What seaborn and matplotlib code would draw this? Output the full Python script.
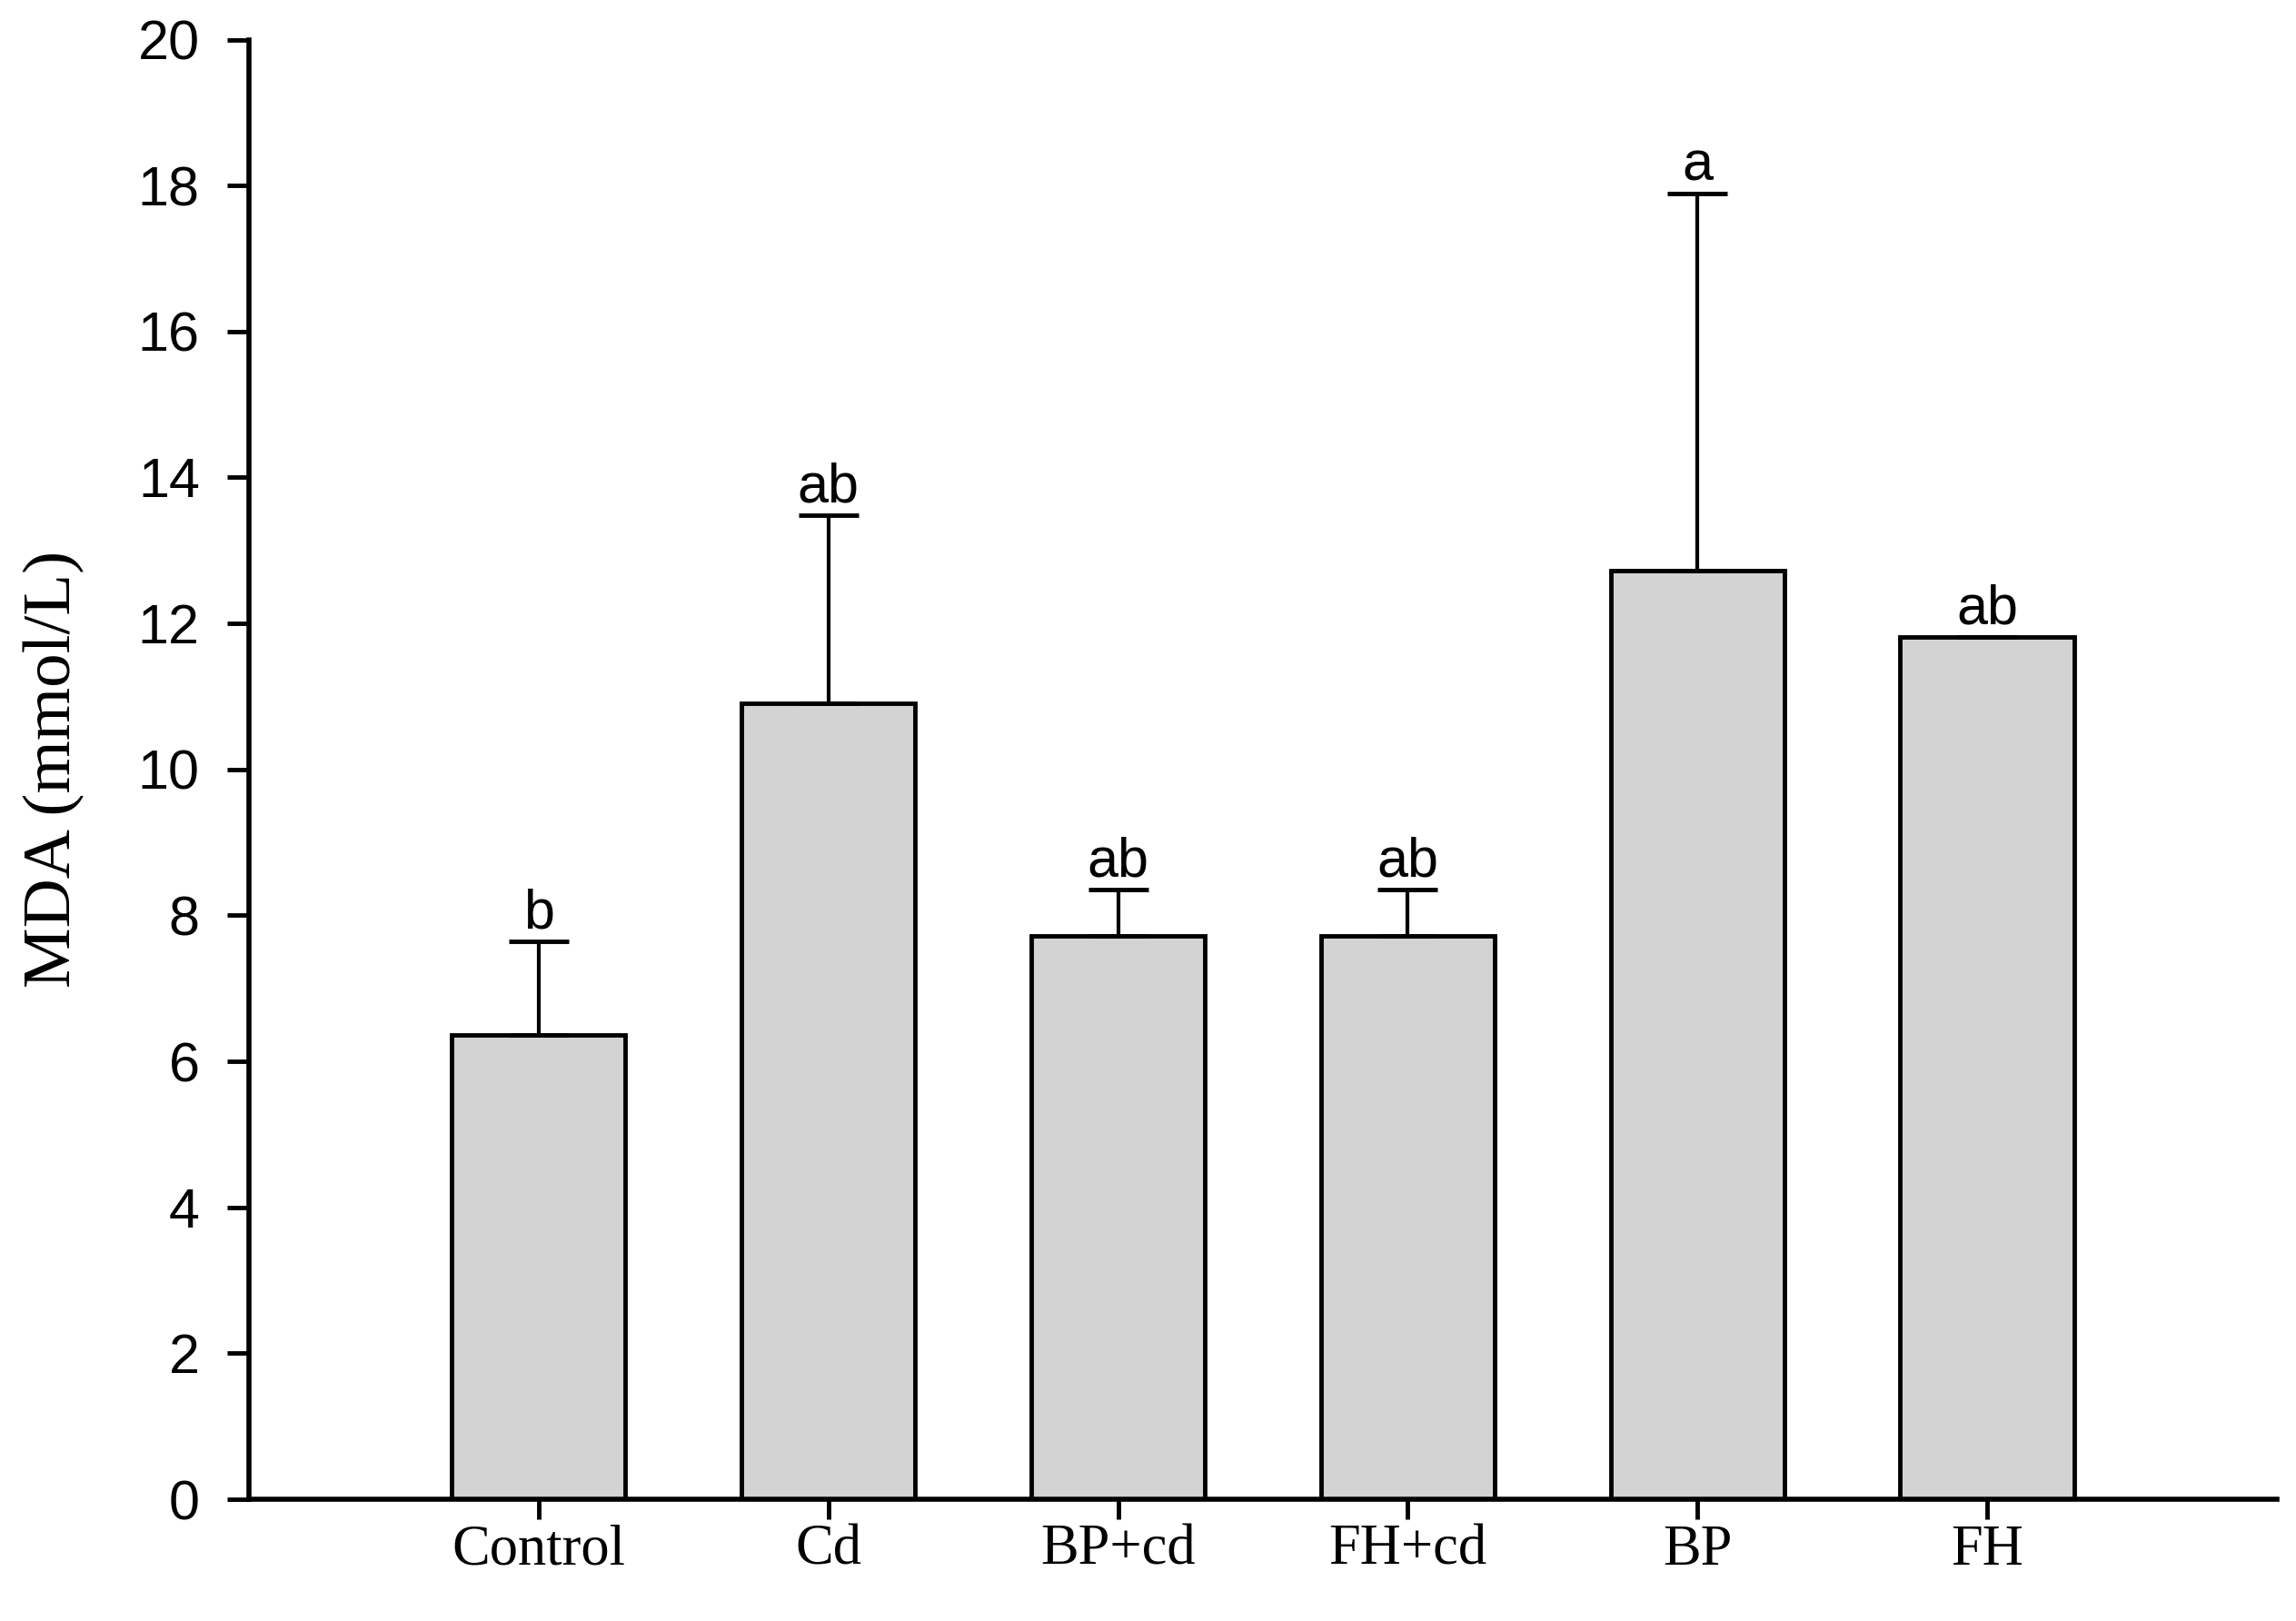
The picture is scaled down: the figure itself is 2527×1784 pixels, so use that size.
import pandas as pd
import seaborn as sns
import matplotlib.pyplot as plt

groups = ["Control", "Cd", "BP+cd", "FH+cd", "BP", "FH"]
mda_mean = [6.36, 10.91, 7.72, 7.72, 12.72, 11.82]
mda_sd = [1.28, 2.57, 0.64, 0.64, 5.17, 0.0]
letters = ["b", "ab", "ab", "ab", "a", "ab"]

df = pd.DataFrame({"group": groups, "mda": mda_mean, "sd": mda_sd})

sns.set_style("ticks", {"axes.edgecolor": "black", "text.color": "black",
                        "axes.labelcolor": "black", "xtick.color": "black",
                        "ytick.color": "black"})
plt.rcParams["font.family"] = ["Liberation Sans", "DejaVu Sans"]

fig = plt.figure(figsize=(25.27, 17.84), dpi=100)
ax = fig.add_axes([0.1084, 0.0751, 0.8833, 0.9005])

sns.barplot(data=df, x="group", y="mda", color="lightgray", edgecolor="black",
            linewidth=3.5, width=0.6, saturation=1, errorbar=None, ax=ax, zorder=2)

xpos = range(len(groups))
ax.errorbar(xpos, df["mda"], yerr=[[0] * len(groups), df["sd"]], fmt="none",
            ecolor="black", elinewidth=3, capsize=24, capthick=3.5, zorder=3)

for x, m, s, lab in zip(xpos, mda_mean, mda_sd, letters):
    ax.text(x, m + s + 0.18, lab, ha="center", va="baseline", fontsize=44,
            color="black", family=["Liberation Sans", "DejaVu Sans"])

ax.set_xlim(-1, len(groups))
ax.set_ylim(0, 20)
ax.set_yticks(range(0, 21, 2))
ax.set_xlabel("")
ax.set_ylabel("MDA (mmol/L)", fontsize=54, color="black",
              family=["Liberation Serif", "DejaVu Serif"])
ax.yaxis.set_label_coords(-0.081, 0.5)

for lab in ax.get_xticklabels():
    lab.set_fontfamily(["Liberation Serif", "DejaVu Serif"])
    lab.set_fontsize(45)
ax.tick_params(axis="x", length=16, width=3.5, pad=4, direction="out", colors="black")
ax.tick_params(axis="y", length=17, width=3.5, pad=22, labelsize=44, direction="out",
               colors="black")

sns.despine(ax=ax)
for side in ["left", "bottom"]:
    ax.spines[side].set_linewidth(4)
    ax.spines[side].set_color("black")

fig.savefig("out.png", dpi=100, facecolor="white")
